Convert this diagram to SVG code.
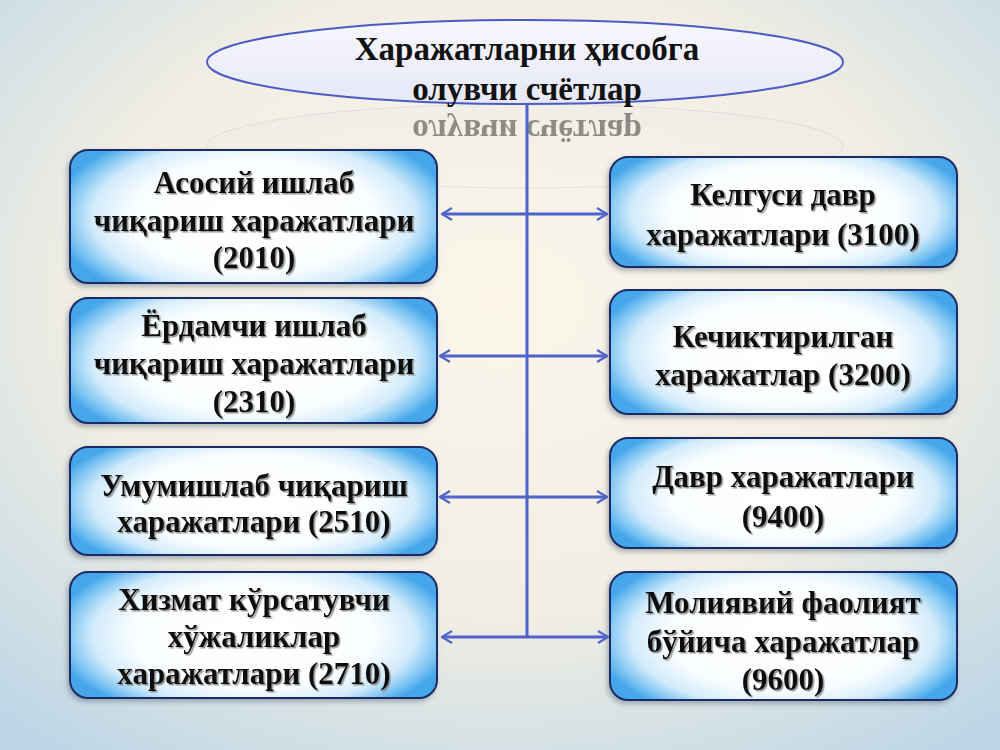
<svg xmlns="http://www.w3.org/2000/svg" width="1000" height="750" viewBox="0 0 1000 750">
<defs>
  <radialGradient id="bg" cx="50%" cy="40%" r="75%">
    <stop offset="0" stop-color="#fbf5ea"/>
    <stop offset="0.55" stop-color="#f2eee3"/>
    <stop offset="1" stop-color="#bcd6e6"/>
  </radialGradient>
  <radialGradient id="boxg" cx="0.5" cy="0.5" r="0.55" gradientTransform="translate(0.5,0.5) scale(1,1.3) translate(-0.5,-0.5)">
    <stop offset="0" stop-color="#ffffff"/>
    <stop offset="0.6" stop-color="#fafdff"/>
    <stop offset="0.8" stop-color="#d2ebfb"/>
    <stop offset="0.93" stop-color="#78c2f1"/>
    <stop offset="1" stop-color="#45a6ea"/>
  </radialGradient>
  <linearGradient id="ellg" x1="0" y1="0" x2="0" y2="1">
    <stop offset="0" stop-color="#f7f7fd"/>
    <stop offset="1" stop-color="#e6e8f7"/>
  </linearGradient>
  <linearGradient id="reflg" x1="0" y1="0" x2="0" y2="1">
    <stop offset="0" stop-color="#e8e6ee" stop-opacity="0.7"/>
    <stop offset="1" stop-color="#f3efe6" stop-opacity="0"/>
  </linearGradient>
  <filter id="shadow" x="-10%" y="-10%" width="120%" height="130%">
    <feDropShadow dx="-2" dy="3" stdDeviation="2.5" flood-color="#556677" flood-opacity="0.45"/>
  </filter>
  <filter id="tshadow" x="-5%" y="-20%" width="110%" height="140%">
    <feDropShadow dx="1.5" dy="1.5" stdDeviation="0.4" flood-color="#777777" flood-opacity="0.8"/>
  </filter>
  <marker id="arr" viewBox="0 0 12 14" refX="11" refY="7" markerWidth="12" markerHeight="14" markerUnits="userSpaceOnUse" orient="auto-start-reverse">
    <polyline points="1,1 11,7 1,13" fill="none" stroke="#5065cc" stroke-width="2.2"/>
  </marker>
  <style>
    .box { fill: url(#boxg); stroke: #1c2b66; stroke-width: 2; filter: url(#shadow); }
    .t { font-family: "Liberation Serif", "Times New Roman", serif; font-weight: bold; font-size: 31px; fill: #111111; text-anchor: middle; filter: url(#tshadow); }
    .tt { font-family: "Liberation Serif", "Times New Roman", serif; font-weight: bold; font-size: 33px; fill: #111111; text-anchor: middle; }
    .c { stroke: #4f63cc; stroke-width: 3; fill: none; }
  </style>
</defs>
<rect x="0" y="0" width="1000" height="750" fill="url(#bg)"/>

<!-- reflection -->
<g id="reflection" opacity="0.45">
  <ellipse cx="525" cy="146" rx="318" ry="42" fill="url(#reflg)" stroke="#9aa2d8" stroke-width="1" stroke-opacity="0.5"/>
  <text class="tt" x="527" y="-120" transform="scale(1,-1)" fill="#666">олувчи счётлар</text>
</g>

<g id="connectors">
  <line class="c" x1="527" y1="104" x2="527" y2="638"/>
  <line class="c" x1="527" y1="214" x2="442" y2="214" marker-end="url(#arr)"/>
  <line class="c" x1="527" y1="214" x2="607" y2="214" marker-end="url(#arr)"/>
  <line class="c" x1="527" y1="356" x2="440" y2="356" marker-end="url(#arr)"/>
  <line class="c" x1="527" y1="356" x2="607" y2="356" marker-end="url(#arr)"/>
  <line class="c" x1="527" y1="497" x2="440" y2="497" marker-end="url(#arr)"/>
  <line class="c" x1="527" y1="497" x2="607" y2="497" marker-end="url(#arr)"/>
  <line class="c" x1="527" y1="637" x2="442" y2="637" marker-end="url(#arr)"/>
  <line class="c" x1="527" y1="637" x2="608" y2="637" marker-end="url(#arr)"/>
</g>

<g id="root">
  <ellipse cx="525" cy="62" rx="318" ry="42" fill="url(#ellg)" stroke="#4b5cc4" stroke-width="2"/>
  <text class="tt" x="527" y="60">Харажатларни ҳисобга</text>
  <text class="tt" x="527" y="100">олувчи счётлар</text>
</g>

<g id="n2010">
  <rect class="box" x="70" y="150" width="367" height="133" rx="18"/>
  <text class="t" x="254" y="193">Асосий ишлаб</text>
  <text class="t" x="254" y="231">чиқариш харажатлари</text>
  <text class="t" x="254" y="268">(2010)</text>
</g>
<g id="n2310">
  <rect class="box" x="70" y="298" width="367" height="125" rx="18"/>
  <text class="t" x="254" y="336">Ёрдамчи ишлаб</text>
  <text class="t" x="254" y="374">чиқариш харажатлари</text>
  <text class="t" x="254" y="412">(2310)</text>
</g>
<g id="n2510">
  <rect class="box" x="70" y="447" width="367" height="108" rx="18"/>
  <text class="t" x="254" y="496">Умумишлаб чиқариш</text>
  <text class="t" x="254" y="532">харажатлари (2510)</text>
</g>
<g id="n2710">
  <rect class="box" x="70" y="572" width="367" height="126" rx="18"/>
  <text class="t" x="254" y="610">Хизмат кўрсатувчи</text>
  <text class="t" x="254" y="647">хўжаликлар</text>
  <text class="t" x="254" y="684">харажатлари (2710)</text>
</g>

<g id="n3100">
  <rect class="box" x="610" y="157" width="347" height="110" rx="18"/>
  <text class="t" x="783" y="205">Келгуси давр</text>
  <text class="t" x="783" y="245">харажатлари (3100)</text>
</g>
<g id="n3200">
  <rect class="box" x="610" y="290" width="347" height="124" rx="18"/>
  <text class="t" x="783" y="347">Кечиктирилган</text>
  <text class="t" x="783" y="385">харажатлар (3200)</text>
</g>
<g id="n9400">
  <rect class="box" x="610" y="438" width="347" height="110" rx="18"/>
  <text class="t" x="783" y="487">Давр харажатлари</text>
  <text class="t" x="783" y="527">(9400)</text>
</g>
<g id="n9600">
  <rect class="box" x="610" y="572" width="347" height="128" rx="18"/>
  <text class="t" x="783" y="613">Молиявий фаолият</text>
  <text class="t" x="783" y="652">бўйича харажатлар</text>
  <text class="t" x="783" y="690">(9600)</text>
</g>
</svg>
